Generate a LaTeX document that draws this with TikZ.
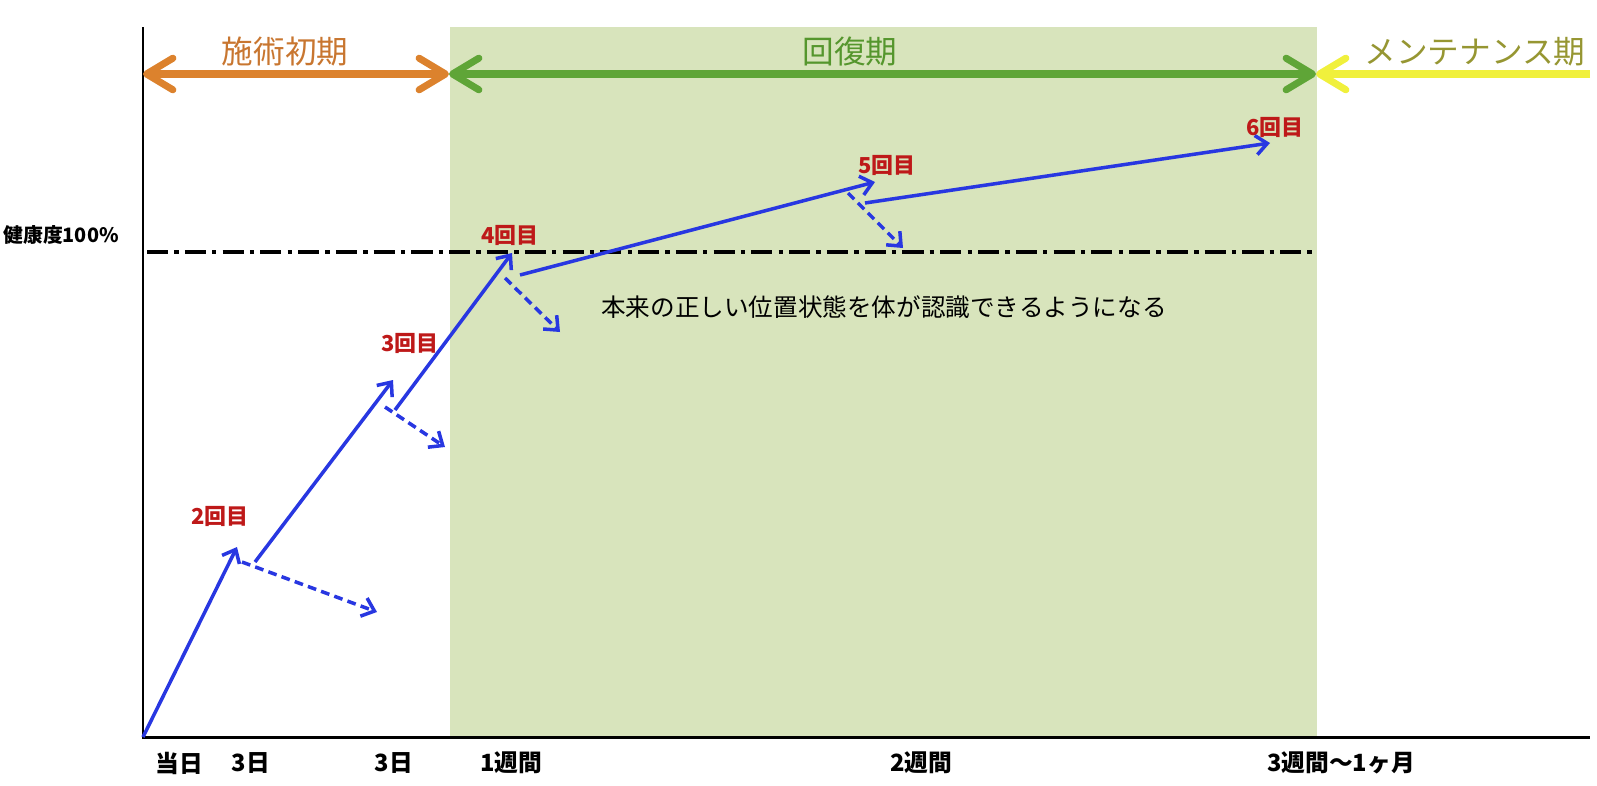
\documentclass[tikz,border=0pt]{standalone}
\usepackage{fontspec}
\setmainfont{Noto Sans CJK JP}
\usepackage{tikz}
\usetikzlibrary{shapes,arrows,arrows.meta,positioning}
\definecolor{earlyorange}{RGB}{220,130,45}
\definecolor{earlytext}{RGB}{200,118,48}
\definecolor{recgreen}{RGB}{95,165,55}
\definecolor{rectext}{RGB}{85,150,45}
\definecolor{maintyellow}{RGB}{240,240,60}
\definecolor{mainttext}{RGB}{150,150,50}
\definecolor{recbg}{RGB}{216,228,188}
\definecolor{gainblue}{RGB}{40,55,225}
\definecolor{visitred}{RGB}{190,25,25}
\tikzstyle{axis} = [draw, line width=1.7pt]
\tikzstyle{goal} = [draw, line width=2pt, dash pattern=on 12pt off 3.5pt on 2.5pt off 3.5pt]
\tikzstyle{term} = [draw, line width=4pt, {Straight Barb[length=15pt,width=18pt,round]}-{Straight Barb[length=15pt,width=18pt,round]}]
\tikzstyle{maint} = [draw, line width=4pt, -{Straight Barb[length=15pt,width=18pt,round]}]
\tikzstyle{gain} = [draw, gainblue, line width=2pt, -{Straight Barb[length=6.5pt,width=11pt]}]
\tikzstyle{relapse} = [gain, dash pattern=on 5pt off 3pt]
\tikzstyle{visit} = [text=visitred, font=\bfseries\fontsize{12.5}{14}\selectfont]
\tikzstyle{when} = [font=\bfseries\fontsize{13.5}{16}\selectfont]
\tikzstyle{title} = [font=\fontsize{18}{21}\selectfont]

\begin{document}
\begin{tikzpicture}[x=0.02cm, y=-0.02cm]
			\useasboundingbox (0,0) rectangle (1597,785);
			\fill [recbg] (450,27) rectangle (1317,737);

			% axes and the 100% line
			\coordinate (ytop) at (143,27);
			\coordinate (o) at (143,737);
			\coordinate (xend) at (1590,737);
			\coordinate (h0) at (147,252);
			\coordinate (h1) at (1316,252);
			\path [goal] (h0) -- (h1);
			\path [axis] (ytop) -- (o) -- (xend);

			% periods
			\coordinate (p0) at (143,74);
			\coordinate (p1) at (449,74);
			\coordinate (p2) at (1316,74);
			\coordinate (p3) at (1590,74);
			\path [term, earlyorange] (p0) -- (p1);
			\path [term, recgreen] (p1) -- (p2);
			\path [maint, maintyellow] (p3) -- (p2);
			\node [title, text=earlytext] (early) at (285,52) {施術初期};
			\node [title, text=rectext] (rec) at (850,52) {回復期};
			\node [title, text=mainttext] (maintenance) at (1475,52) {メンテナンス期};

			% visits
			\coordinate (v2) at (237,547);
			\coordinate (v2s) at (255,562);
			\coordinate (v3) at (393,380);
			\coordinate (v3s) at (395,410);
			\coordinate (v4) at (512,253);
			\coordinate (v4s) at (520,275);
			\coordinate (v5) at (875,182);
			\coordinate (v5s) at (865,203);
			\coordinate (v6) at (1270,143);
			\path [gain] (o) -- (v2);
			\path [gain] (v2s) -- (v3);
			\path [gain] (v3s) -- (v4);
			\path [gain] (v4s) -- (v5);
			\path [gain] (v5s) -- (v6);

			\coordinate (r2s) at (242,562);
			\coordinate (r2) at (377,612);
			\coordinate (r3s) at (385,407);
			\coordinate (r3) at (445,447);
			\coordinate (r4s) at (505,278);
			\coordinate (r4) at (560,332);
			\coordinate (r5s) at (848,193);
			\coordinate (r5) at (903,248);
			\path [relapse] (r2s) -- (r2);
			\path [relapse] (r3s) -- (r3);
			\path [relapse] (r4s) -- (r4);
			\path [relapse] (r5s) -- (r5);

			\node [visit] (n2) at (220,516) {2回目};
			\node [visit] (n3) at (410,343) {3回目};
			\node [visit] (n4) at (510,235) {4回目};
			\node [visit] (n5) at (887,165) {5回目};
			\node [visit] (n6) at (1275,127) {6回目};

			\node [font=\fontsize{14}{17}\selectfont] (note) at (884,307) {本来の正しい位置状態を体が認識できるようになる};
			\node [font=\bfseries\fontsize{11.3}{13}\selectfont] (full) at (61,235) {健康度100\%};

			% time axis
			\node [when] (d0) at (179,763) {当日};
			\node [when] (d3a) at (251,763) {3日};
			\node [when] (d3b) at (394,763) {3日};
			\node [when] (w1) at (511,763) {1週間};
			\node [when] (w2) at (921,763) {2週間};
			\node [when] (w3) at (1341,763) {3週間〜1ヶ月};
		\end{tikzpicture}
\end{document}
